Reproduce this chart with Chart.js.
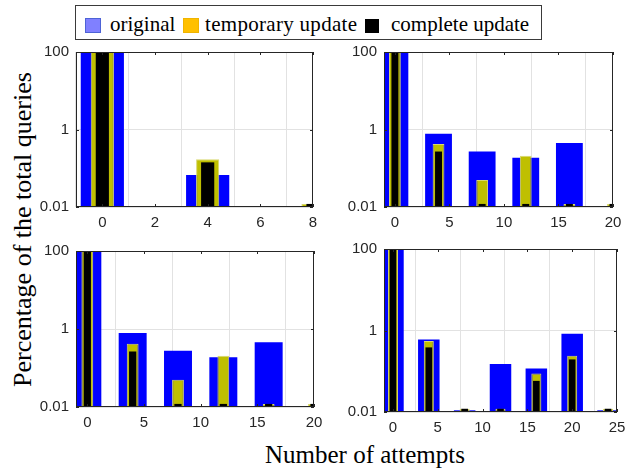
<!DOCTYPE html>
<html>
<head>
<meta charset="utf-8">
<script src="https://cdn.jsdelivr.net/npm/chart.js@4.4.0/dist/chart.umd.min.js"></script>
<style>
  body { margin: 0; width: 626px; height: 468px; background: #fff; position: relative; overflow: hidden; font-family: "Liberation Serif", "Times New Roman", serif; }
  canvas { position: absolute; }
  .legend { position: absolute; left: 75px; top: 5px; width: 467px; height: 35px; border: 1px solid #3a3a3a; box-sizing: border-box; }
  .patch { position: absolute; box-sizing: border-box; }
  .label { position: absolute; font-size: 21px; line-height: 21px; white-space: nowrap; color: #000; }
  .title { position: absolute; font-size: 25px; line-height: 25px; white-space: nowrap; color: #000; text-align: center; }
</style>
</head>
<body>
<div class="legend"></div>
<div class="patch" style="left:85px;top:18px;width:16px;height:15px;background:#8080ff;border:1px solid #4d63d6;"></div>
<div class="label" style="left:110px;top:14px;">original</div>
<div class="patch" style="left:183px;top:18px;width:16px;height:15px;background:#ffc000;border:1px solid #f0b400;"></div>
<div class="label" style="left:205px;top:14px;letter-spacing:0.3px;">temporary update</div>
<div class="patch" style="left:365px;top:19px;width:14px;height:14px;background:#000;"></div>
<div class="label" style="left:391px;top:14px;">complete update</div>

<div class="title" style="left:-178px;top:217px;width:400px;font-size:26px;transform:rotate(-90deg);">Percentage of the total queries</div>
<div class="title" style="left:165px;top:442px;width:400px;">Number of attempts</div>

<canvas id="p1"></canvas>
<canvas id="p2"></canvas>
<canvas id="p3"></canvas>
<canvas id="p4"></canvas>

<script>
// top left
const attemptsA = [0, 4, 8];
const originalA = [100, 0.067, null];
const temporaryA = [100, 0.17, 0.012];
const completeA = [100, 0.142, 0.012];
const xTicksA = [0, 2, 4, 6, 8];

// top right
const attemptsB = [0, 4, 8, 12, 16, 20];
const originalB = [100, 0.78, 0.27, 0.186, 0.45, null];
const temporaryB = [100, 0.42, 0.05, 0.21, 0.012, 0.012];
const completeB = [100, 0.27, 0.012, 0.012, 0.012, 0.012];
const xTicksB = [0, 5, 10, 15, 20];

// bottom left
const attemptsC = [0, 4, 8, 12, 16, 20];
const originalC = [100, 0.79, 0.275, 0.19, 0.46, null];
const temporaryC = [100, 0.42, 0.05, 0.205, 0.012, 0.012];
const completeC = [100, 0.265, 0.012, 0.012, 0.012, 0.012];
const xTicksC = [0, 5, 10, 15, 20];

// bottom right
const attemptsD = [0, 4, 8, 12, 16, 20, 24];
const originalD = [100, 0.6, 0.011, 0.15, 0.117, 0.83, 0.011];
const temporaryD = [100, 0.55, 0.012, 0.012, 0.088, 0.24, 0.012];
const completeD = [100, 0.385, 0.012, 0.012, 0.058, 0.195, 0.012];
const xTicksD = [0, 5, 10, 15, 20, 25];

const yTicks = [0.01, 1, 100];

const AXIS_W = 50;   // room for y tick labels
const AXIS_H = 30;   // room for x tick labels
const PAD_TOP = 12;
const PAD_RIGHT = 14;

const panels = [
  { id: "p1", rect: [76, 52, 313, 207], xs: attemptsA, series: [originalA, temporaryA, completeA], ticks: xTicksA, xMax: 8, widths: [0.82, 0.44, 0.25] },
  { id: "p2", rect: [384, 52, 613, 207], xs: attemptsB, series: [originalB, temporaryB, completeB], ticks: xTicksB, xMax: 20, widths: [0.615, 0.27, 0.16] },
  { id: "p3", rect: [76, 251, 314, 407], xs: attemptsC, series: [originalC, temporaryC, completeC], ticks: xTicksC, xMax: 20, widths: [0.617, 0.26, 0.16] },
  { id: "p4", rect: [384, 249, 617, 412], xs: attemptsD, series: [originalD, temporaryD, completeD], ticks: xTicksD, xMax: 25, widths: [0.6, 0.28, 0.185] },
];

// MATLAB style box with inward ticks
const boxPlugin = {
  id: "box",
  afterDatasetsDraw(chart) {
    const { ctx, chartArea: { left, top, right, bottom }, scales: { x, y } } = chart;
    ctx.save();
    ctx.strokeStyle = "#262626";
    ctx.lineWidth = 1;
    ctx.strokeRect(left + 0.5, top + 0.5, right - left - 1, bottom - top - 1);
    ctx.beginPath();
    x.ticks.forEach((t) => {
      const px = Math.round(x.getPixelForValue(t.value)) + 0.5;
      ctx.moveTo(px, bottom);
      ctx.lineTo(px, bottom - 3);
      ctx.moveTo(px, top);
      ctx.lineTo(px, top + 3);
    });
    y.ticks.forEach((t) => {
      const py = Math.round(y.getPixelForValue(t.value)) + 0.5;
      ctx.moveTo(left, py);
      ctx.lineTo(left + 3, py);
      ctx.moveTo(right, py);
      ctx.lineTo(right - 3, py);
    });
    ctx.stroke();
    ctx.restore();
  },
};

Chart.defaults.font.family = "'Liberation Sans', Arial, sans-serif";
Chart.defaults.font.size = 15;
Chart.defaults.color = "#262626";

const toPoints = (xs, ys) => xs.map((v, i) => ({ x: v, y: ys[i] }));

panels.forEach((p) => {
  const [l, t, r, b] = p.rect;
  const canvas = document.getElementById(p.id);
  canvas.width = r - l + AXIS_W + PAD_RIGHT;
  canvas.height = b - t + PAD_TOP + AXIS_H;
  canvas.style.left = l - AXIS_W + "px";
  canvas.style.top = t - PAD_TOP + "px";

  new Chart(canvas, {
    type: "bar",
    data: {
      datasets: [
        {
          label: "original",
          data: toPoints(p.xs, p.series[0]),
          backgroundColor: "#0000ff",
          borderWidth: 0,
          barPercentage: p.widths[0],
          categoryPercentage: 1,
          grouped: false,
          order: 3,
        },
        {
          label: "temporary update",
          data: toPoints(p.xs, p.series[1]),
          backgroundColor: "#bfbf00",
          borderColor: "#d8d870",
          borderWidth: 1,
          barPercentage: p.widths[1],
          categoryPercentage: 1,
          grouped: false,
          order: 2,
        },
        {
          label: "complete update",
          data: toPoints(p.xs, p.series[2]),
          backgroundColor: "#000000",
          borderWidth: 0,
          barPercentage: p.widths[2],
          categoryPercentage: 1,
          grouped: false,
          order: 1,
        },
      ],
    },
    options: {
      responsive: false,
      animation: false,
      events: [],
      layout: { padding: { top: PAD_TOP, right: PAD_RIGHT, left: 0, bottom: 0 } },
      plugins: { legend: { display: false }, tooltip: { enabled: false } },
      scales: {
        x: {
          type: "linear",
          min: -1,
          max: p.xMax,
          offset: false,
          afterBuildTicks: (s) => { s.ticks = p.ticks.map((v) => ({ value: v })); },
          afterFit: (s) => { s.height = AXIS_H; s.paddingLeft = 0; s.paddingRight = 0; },
          grid: { color: "#e2e2e2", drawTicks: false },
          border: { display: false },
          ticks: { padding: 7, maxRotation: 0, autoSkip: false },
        },
        y: {
          type: "logarithmic",
          min: 0.01,
          max: 100,
          afterBuildTicks: (s) => { s.ticks = yTicks.map((v) => ({ value: v })); },
          afterFit: (s) => { s.width = AXIS_W; s.paddingTop = 0; s.paddingBottom = 0; },
          grid: { color: "#e2e2e2", drawTicks: false },
          border: { display: false },
          ticks: { padding: 7, callback: (v) => String(v) },
        },
      },
    },
    plugins: [boxPlugin],
  });
});
</script>
</body>
</html>
